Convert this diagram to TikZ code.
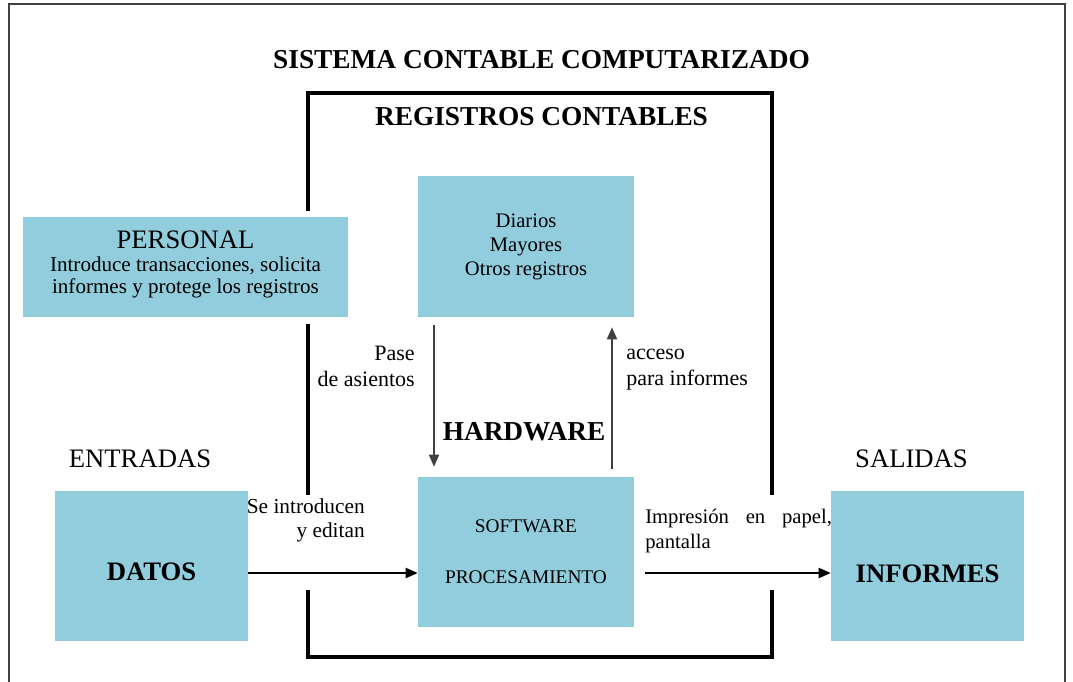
\documentclass[tikz,border=0pt]{standalone}
\usepackage{fontspec}
\setmainfont{Liberation Serif}
\usetikzlibrary{arrows.meta}
\definecolor{azulcaja}{RGB}{146,205,221}
\tikzset{
	caja/.style={fill=azulcaja, inner sep=0pt, align=center},
	marco/.style={line width=2.6pt, line cap=rect},
	flecha/.style={line width=1.4pt, -{Triangle[length=9pt,width=7.5pt]}},
	flechagris/.style={line width=1.2pt, color=black!75, -{Triangle[length=9pt,width=7.5pt]}},
	etiqueta/.style={inner sep=0pt, font=\fontsize{16.5}{19.5}\selectfont},
	cabecera/.style={inner sep=0pt, font=\fontsize{20}{24}\selectfont},
	titular/.style={inner sep=0pt, font=\bfseries\fontsize{20.5}{24}\selectfont}
}

\begin{document}
\begin{tikzpicture}[x=0.75pt, y=-0.75pt]
		%%%%% START %%%%%
		\useasboundingbox (0,0) rectangle (1073,681);
		\draw[line width=1.1pt, color=black!75] (9,700) -- (9,4) -- (1065,4) -- (1065,700);
		
		\node[titular] (titulo) at (541.5,60) {SISTEMA CONTABLE COMPUTARIZADO};
		
		% marco de registros contables
		\draw[marco] (308,209) -- (308,93) -- (772,93) -- (772,493);
		\draw[marco] (308,326) -- (308,493);
		\draw[marco] (308,592) -- (308,657) -- (772,657) -- (772,592);
		\node[titular] (registroslbl) at (541.5,117) {REGISTROS CONTABLES};
		
		\node[caja, minimum width=243.75pt, minimum height=75pt, text depth=7.5pt,
			font=\fontsize{15.8}{16.5}\selectfont] (personal) at (185.5,267)
			{{\fontsize{20}{24}\selectfont PERSONAL}\\[1pt]
			Introduce transacciones, solicita\\
			informes y protege los registros};
		
		\node[caja, minimum width=162pt, minimum height=105.75pt,
			font=\fontsize{15.5}{18}\selectfont] (registros) at (526,246.5)
			{Diarios\\Mayores\\Otros registros};
		
		\node[caja, minimum width=162pt, minimum height=112.5pt,
			font=\fontsize{14.5}{18}\selectfont] (software) at (526,552)
			{SOFTWARE\\[20pt]PROCESAMIENTO};
		
		\node[caja, minimum width=144.75pt, minimum height=112.5pt, text height=22pt, text depth=0pt,
			font=\bfseries\fontsize{20}{24}\selectfont] (datos) at (151.5,566) {DATOS};
		\node[caja, minimum width=144.75pt, minimum height=112.5pt, text height=25pt, text depth=0pt,
			font=\bfseries\fontsize{20}{24}\selectfont] (informes) at (927.5,566) {INFORMES};
		
		\node[cabecera] (entradas) at (140,459) {ENTRADAS};
		\node[cabecera] (salidas) at (911.5,459) {SALIDAS};
		\node[titular] (hardware) at (524,432) {HARDWARE};
		
		% flechas
		\coordinate (nivel) at (0,573);
		\draw[flecha] (datos.east |- nivel) -- (software.west |- nivel);
		\draw[flecha, shorten <=8.25pt] (software.east |- nivel) -- (informes.west |- nivel);
		\draw[flechagris, shorten <=6pt, shorten >=7.5pt] ([xshift=-69pt]registros.south) -- ([xshift=-69pt]software.north);
		\draw[flechagris, shorten <=6pt, shorten >=7.5pt] ([xshift=64.5pt]software.north) -- ([xshift=64.5pt]registros.south);
		
		\node[etiqueta, align=right, anchor=east] (pase) at (415,366) {Pase\\de asientos};
		\node[etiqueta, align=left, anchor=west] (acceso) at (626,370) {acceso\\para informes};
		\node[etiqueta, align=right, anchor=east, font=\fontsize{16}{18}\selectfont] (introducen) at (365,520) {Se introducen\\y editan};
		\node[etiqueta, align=left, anchor=west, text width=140pt, font=\fontsize{15.5}{18.75}\selectfont] (impresion) at (645,531.5)
			{Impresión\hfill en\hfill papel,\\pantalla};
		
		%%%%% END %%%%%
\end{tikzpicture}
\end{document}
